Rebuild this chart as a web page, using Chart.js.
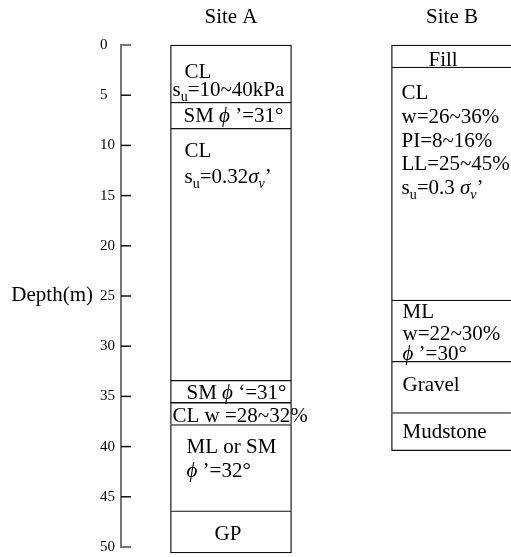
<!DOCTYPE html>
<html>
<head>
<meta charset="utf-8">
<script src="https://cdn.jsdelivr.net/npm/chart.js@4.4.1/dist/chart.umd.min.js"></script>
<style>
  html, body { margin: 0; padding: 0; background: #fff; overflow: hidden; }
  #wrap { width: 511px; height: 557px; }
</style>
</head>
<body>
<div id="wrap"><canvas id="profile" width="511" height="557"></canvas></div>
<script>
// Borehole columns
const categories = ['Site A', 'Site B'];

// Layer boundaries (depth, m), top of first layer to bottom of last
const siteABounds = [0, 5.7, 8.3, 33.4, 35.6, 37.8, 46.4, 50.6];
const siteBBounds = [0, 2.2, 25.4, 31.5, 36.6, 40.4];

// Depth axis tick labels
const depthTicks = [0, 5, 10, 15, 20, 25, 30, 35, 40, 45, 50];

// Layer descriptions ("*" toggles italic, "_{..}" is a subscript)
const siteAText = [
  ['CL', 's_{u}=10~40kPa'],
  ['SM *\u03d5* \u2019=31\u00b0'],
  ['CL', 's_{u}=0.32*\u03c3*_{*v*}\u2019'],
  ['SM *\u03d5* \u2018=31\u00b0'],
  ['CL w =28~32%'],
  ['ML or SM', '*\u03d5* \u2019=32\u00b0'],
  ['GP']
];
const siteBText = [
  ['Fill'],
  ['CL', 'w=26~36%', 'PI=8~16%', 'LL=25~45%', 's_{u}=0.3 *\u03c3*_{*v*}\u2019'],
  ['ML', 'w=22~30%', '*\u03d5* \u2019=30\u00b0'],
  ['Gravel'],
  ['Mudstone']
];

// Text placement inside each layer: x offset from column edge, baseline offset from layer top
const siteATextPos = [
  { dx: [14, 2], dy: [33, 51] },
  { dx: [13], dy: [19.5] },
  { dx: [14, 14], dy: [29, 55] },
  { dx: [16], dy: [19] },
  { dx: [2], dy: [20] },
  { dx: [16, 16], dy: [28.5, 52.5] },
  { dx: [44], dy: [29] }
];
const siteBTextPos = [
  { dx: [37], dy: [21] },
  { dx: [10, 10, 10, 10, 10], dy: [32, 56, 80, 103, 127] },
  { dx: [11, 11, 11], dy: [17.5, 39.5, 59.5] },
  { dx: [11], dy: [30] },
  { dx: [11], dy: [26] }
];

const FONT = '"Liberation Serif", "Times New Roman", serif';
const TEXT_SIZE = 21;

function layersFrom(bounds, x) {
  const out = [];
  for (let i = 0; i < bounds.length - 1; i++) out.push({ x: x, y: [bounds[i], bounds[i + 1]] });
  return out;
}

function parseRich(s) {
  const out = [];
  let it = false, sub = false, buf = '';
  const flush = () => { if (buf) out.push({ t: buf, it, sub }); buf = ''; };
  for (let i = 0; i < s.length; i++) {
    const c = s[i];
    if (c === '*') { flush(); it = !it; }
    else if (c === '_' && s[i + 1] === '{') { flush(); sub = true; i++; }
    else if (c === '}' && sub) { flush(); sub = false; }
    else buf += c;
  }
  flush();
  return out;
}

function drawRich(ctx, str, x, y, size) {
  const segs = parseRich(str);
  const fontOf = sg => (sg.it ? 'italic ' : '') + (sg.sub ? Math.round(size * 0.68) : size) + 'px ' + FONT;
  let cx = x;
  segs.forEach(sg => {
    ctx.font = fontOf(sg);
    ctx.fillText(sg.t, cx, y + (sg.sub ? size * 0.24 : 0));
    cx += ctx.measureText(sg.t).width;
  });
}

// Tick marks on the depth axis point into the plot, plus the horizontal axis title
const depthAxisDecor = {
  id: 'depthAxisDecor',
  afterDraw(chart) {
    const { ctx, chartArea } = chart;
    const ys = chart.scales.y;
    ctx.save();
    ys.ticks.forEach(t => {
      const py = ys.getPixelForValue(t.value);
      const edge = t.value === depthTicks[0] || t.value === depthTicks[depthTicks.length - 1];
      ctx.strokeStyle = edge ? '#777' : '#111';
      ctx.lineWidth = edge ? 2 : 1.5;
      ctx.beginPath();
      ctx.moveTo(chartArea.left, py);
      ctx.lineTo(chartArea.left + 10, py);
      ctx.stroke();
    });
    ctx.fillStyle = '#000';
    ctx.font = TEXT_SIZE + 'px ' + FONT;
    ctx.textAlign = 'right';
    ctx.textBaseline = 'alphabetic';
    ctx.fillText('Depth(m)', 93, ys.getPixelForValue(25) + 5);
    ctx.restore();
  }
};

// Layer descriptions drawn inside each bar
const layerLabels = {
  id: 'layerLabels',
  afterDatasetsDraw(chart) {
    const { ctx } = chart;
    const texts = [siteAText, siteBText];
    const pos = [siteATextPos, siteBTextPos];
    ctx.save();
    ctx.fillStyle = '#000';
    ctx.textAlign = 'left';
    ctx.textBaseline = 'alphabetic';
    chart.data.datasets.forEach((ds, di) => {
      const meta = chart.getDatasetMeta(di);
      meta.data.forEach((bar, li) => {
        const p = bar.getProps(['x', 'y', 'base', 'width'], true);
        const left = p.x - p.width / 2;
        const top = Math.min(p.y, p.base);
        const lines = texts[di][li];
        const lp = pos[di][li];
        lines.forEach((line, k) => drawRich(ctx, line, left + lp.dx[k], top + lp.dy[k], TEXT_SIZE));
      });
    });
    ctx.restore();
  }
};

function borderFor(bounds) {
  return ctx => {
    const w = 1.3;
    return ctx.dataIndex === bounds.length - 2
      ? w
      : { top: w, left: w, right: w, bottom: 0 };
  };
}

Chart.defaults.font.family = FONT;
Chart.defaults.color = '#000';

new Chart(document.getElementById('profile'), {
  type: 'bar',
  data: {
    datasets: [
      {
        label: categories[0],
        data: layersFrom(siteABounds, 0),
        backgroundColor: '#fff',
        borderColor: '#111',
        borderWidth: borderFor(siteABounds),
        borderSkipped: false,
        clip: false
      },
      {
        label: categories[1],
        data: layersFrom(siteBBounds, 1),
        backgroundColor: '#fff',
        borderColor: '#111',
        borderWidth: borderFor(siteBBounds),
        borderSkipped: false,
        clip: false
      }
    ]
  },
  options: {
    responsive: false,
    animation: false,
    events: [],
    grouped: false,
    barThickness: 121,
    layout: { padding: { left: 100, right: 0, top: 0, bottom: 10 } },
    plugins: { legend: { display: false }, tooltip: { enabled: false } },
    scales: {
      x: {
        type: 'linear',
        position: 'top',
        min: -0.4977,
        max: 1.267,
        offset: false,
        grid: { display: false, drawTicks: false },
        border: { display: false },
        afterBuildTicks: s => { s.ticks = categories.map((_, i) => ({ value: i })); },
        afterFit: s => { s.height = 45; s.paddingLeft = 0; s.paddingRight = 0; },
        ticks: {
          autoSkip: false,
          maxRotation: 0,
          padding: 15,
          font: { size: TEXT_SIZE },
          color: '#000',
          callback: v => categories[v]
        }
      },
      y: {
        type: 'linear',
        reverse: true,
        min: depthTicks[0],
        max: depthTicks[depthTicks.length - 1],
        grid: { display: false, drawTicks: false },
        border: { display: true, color: '#777', width: 2 },
        afterBuildTicks: s => { s.ticks = depthTicks.map(v => ({ value: v })); },
        afterFit: s => { s.width = 21; s.paddingTop = 0; s.paddingBottom = 0; },
        ticks: {
          crossAlign: 'far',
          padding: 6,
          font: { size: 15 },
          color: '#000'
        }
      }
    }
  },
  plugins: [depthAxisDecor, layerLabels]
});
</script>
</body>
</html>
